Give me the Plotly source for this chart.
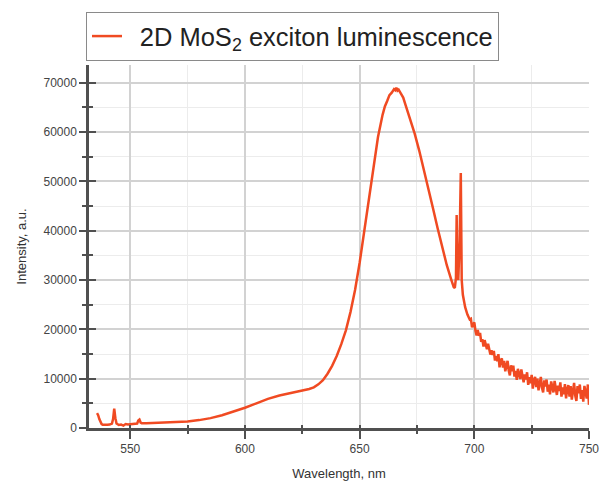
import plotly.graph_objects as go

wavelength = [
    535.5, 536, 536.5, 537, 537.5, 538, 539, 540, 541, 542, 542.5, 543, 543.5, 544, 545, 546, 547, 548, 549,
    550, 551, 552, 553, 553.5, 554, 554.5, 555, 557, 560, 565, 570, 575, 580, 585, 590, 595,
    600, 605, 610, 615, 620, 624, 626, 628, 630, 632, 634, 636, 638, 640, 642, 644, 646, 648,
    650, 652, 654, 656, 658, 660, 661, 662, 663, 664, 665, 665.5, 666, 666.5, 667, 668, 669, 670, 672, 674, 676, 678,
    680, 682, 684, 686, 688, 690, 691, 691.5, 692, 692.3, 692.6, 693, 693.6, 694.1, 694.5, 695, 696, 697, 698,
    698.5, 699, 699.5, 700, 700.5, 701, 701.5, 702, 702.5, 703, 703.5, 704, 704.5, 705, 705.5, 706, 706.5,
    707, 707.5, 708, 708.5, 709, 709.5, 710, 710.5, 711, 711.5, 712, 712.5, 713, 713.5, 714, 714.5, 715,
    715.5, 716, 716.5, 717, 717.5, 718, 718.5, 719, 719.5, 720, 720.5, 721, 721.5, 722, 722.5, 723, 723.5,
    724, 724.5, 725, 725.5, 726, 726.5, 727, 727.5, 728, 728.5, 729, 729.5, 730, 730.5, 731, 731.5, 732,
    732.5, 733, 733.5, 734, 734.5, 735, 735.5, 736, 736.5, 737, 737.5, 738, 738.5, 739, 739.5, 740, 740.5,
    741, 741.5, 742, 742.5, 743, 743.5, 744, 744.5, 745, 745.5, 746, 746.5, 747, 747.5, 748, 748.5, 749,
    749.5, 750,
]

intensity = [
    3000, 2600, 1800, 1100, 800, 650, 600, 650, 700, 900, 1800, 3900, 2000, 900, 600, 700, 500, 800, 700,
    750, 800, 850, 900, 1500, 1700, 1100, 950, 950, 1000, 1050, 1150, 1300, 1600, 2000, 2600, 3300,
    4100, 5000, 5900, 6600, 7100, 7450, 7650, 7900, 8250, 8850, 9700, 11000, 12600, 14600, 17000, 19800, 23500, 28000,
    33500, 40000, 47000, 53500, 59000, 63500, 65200, 66300, 67500, 68000, 68700, 68500, 69000, 68400, 68600, 67800, 67000, 65500, 62600, 59700, 56200, 52500,
    48500, 44500, 40500, 36800, 33000, 30000, 28600, 28400, 30500, 43200, 31000, 30000, 38000, 51700, 30000, 27000, 24500, 23000, 22000,
    22140, 20390, 21030, 21400, 19720, 18750, 19860, 18710, 19260, 17470, 18020, 16500, 17820, 16890, 15960, 17100, 15630,
    14880, 15750, 14820, 15650, 13690, 14610, 13550, 14970, 12300, 13660, 14110, 12240, 13630, 11500, 12760, 13620, 11630,
    10670, 12710, 11520, 12670, 10440, 11590, 9770, 11990, 10950, 9920, 11870, 10060, 9280, 10850, 9840, 11300, 8730,
    10320, 9050, 10770, 8000, 9700, 10350, 8300, 10000, 7650, 9220, 10350, 8170, 7200, 9670, 8400, 9820, 7350,
    8800, 6800, 9450, 8350, 7220, 9550, 7520, 6700, 8600, 7500, 9250, 6350, 8250, 6850, 8900, 6000, 7840,
    8710, 6350, 8480, 5760, 7710, 9130, 6580, 5480, 8510, 7050, 8820, 5920, 7690, 5330, 8540, 7260, 5970,
    8830, 4700,
]

x_ticks = [550, 600, 650, 700, 750]
y_ticks = [0, 10000, 20000, 30000, 40000, 50000, 60000, 70000]
x_range = [532, 750]
y_range = [0, 73600]

line_color = "#f04a22"
axis_color = "#505050"
font_family = "Liberation Sans, Arial, sans-serif"

fig = go.Figure()
fig.add_trace(go.Scatter(
    x=wavelength, y=intensity, mode="lines",
    name="\u20022D MoS<sub>2</sub> exciton luminescence",
    line=dict(color=line_color, width=2.5),
))
# empty trace to host the overlay axes (inner half of crossing ticks)
fig.add_trace(go.Scatter(x=[], y=[], xaxis="x2", yaxis="y2", showlegend=False))

fig.update_layout(
    width=600, height=485,
    margin=dict(l=89, r=11, t=65, b=57),
    paper_bgcolor="white", plot_bgcolor="white",
    font=dict(family=font_family, color="#444444"),
    showlegend=True,
    legend=dict(
        x=-0.006, y=1.146, xanchor="left", yanchor="top",
        bgcolor="white", bordercolor="#8a8a8a", borderwidth=1,
        font=dict(size=25.5, color="#222222", family=font_family),
        itemwidth=30,
    ),
    xaxis=dict(
        range=x_range, tickvals=x_ticks, automargin=False,
        showline=True, linecolor=axis_color, linewidth=2.5,
        ticks="outside", ticklen=8, tickwidth=2, tickcolor=axis_color,
        tickfont=dict(size=12, color="#444444"),
        showgrid=True, gridcolor="#d2d2d2", gridwidth=1.5,
        minor=dict(dtick=25, tick0=525, ticks="outside", ticklen=3, tickwidth=2, tickcolor=axis_color,
                   showgrid=True, gridcolor="#ececec", gridwidth=1),
        zeroline=False,
        title=dict(text="Wavelength, nm", font=dict(size=13, color="#333333"), standoff=14),
    ),
    yaxis=dict(
        range=y_range, tickvals=y_ticks, tickformat="d", automargin=False,
        showline=True, linecolor=axis_color, linewidth=2.5,
        ticks="outside", ticklen=7, tickwidth=2, tickcolor=axis_color,
        tickfont=dict(size=12, color="#444444"),
        showgrid=True, gridcolor="#d2d2d2", gridwidth=1.5,
        minor=dict(dtick=10000, tick0=5000, ticks="outside", ticklen=4, tickwidth=2, tickcolor=axis_color,
                   showgrid=True, gridcolor="#ececec", gridwidth=1),
        zeroline=False,
        title=dict(text="Intensity, a.u.", font=dict(size=13, color="#333333"), standoff=14),
    ),
    xaxis2=dict(
        overlaying="x", anchor="y", range=x_range, tickvals=x_ticks, showticklabels=False,
        ticks="inside", ticklen=3, tickwidth=2, tickcolor=axis_color, showgrid=False, zeroline=False,
        showline=False, automargin=False,
        minor=dict(dtick=25, tick0=525, ticks="inside", ticklen=3, tickwidth=2, tickcolor=axis_color),
    ),
    yaxis2=dict(
        overlaying="y", anchor="x", range=y_range, tickvals=y_ticks, showticklabels=False,
        ticks="inside", ticklen=7, tickwidth=2, tickcolor=axis_color, showgrid=False, zeroline=False,
        showline=False, automargin=False,
        minor=dict(dtick=10000, tick0=5000, ticks="inside", ticklen=4, tickwidth=2, tickcolor=axis_color),
    ),
)

fig.write_html(
    "out.html",
    config={"displayModeBar": False},
    post_script="document.body.style.margin='0';document.body.style.overflow='hidden';",
)
